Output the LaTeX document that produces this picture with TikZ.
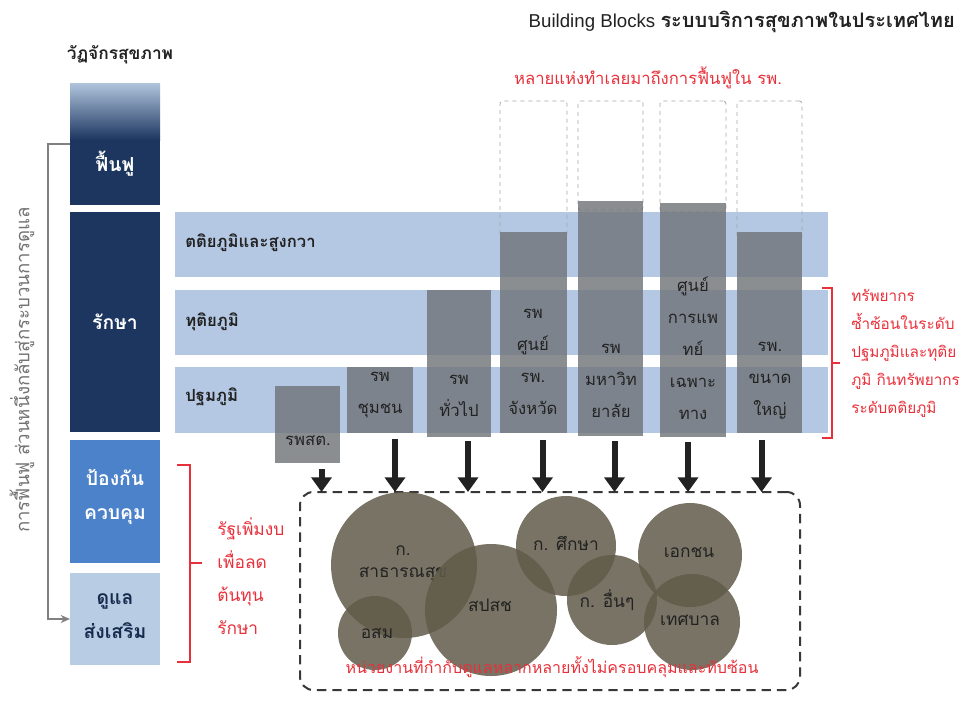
\documentclass[tikz,border=0pt]{standalone}
\usepackage{fontspec}
\setmainfont{Liberation Sans}
\newfontfamily\thai[Script=Thai]{Loma}
\usetikzlibrary{arrows.meta,fit,calc}
\definecolor{navy}{HTML}{1C3660}
\definecolor{navytop}{HTML}{B0C4DC}
\definecolor{midblue}{HTML}{4C82C9}
\definecolor{lightblue}{HTML}{B8CCE4}
\definecolor{band}{HTML}{B4C8E3}
\definecolor{boxgray}{HTML}{727579}
\definecolor{redtxt}{HTML}{E8303A}
\definecolor{olive}{HTML}{605A49}
\definecolor{txtdark}{HTML}{222222}
\begin{document}
\begin{tikzpicture}[x=0.75pt,y=-0.75pt,
  box/.style={inner sep=0pt, outer sep=0pt, draw=none},
  bandbox/.style={box, fill=band},
  graybox/.style={box, fill=boxgray, fill opacity=0.82},
  dashbox/.style={box, draw=gray!70, dashed, line width=0.6pt, rounded corners=2pt},
  lbl/.style={font=\thai\bfseries\fontsize{12.5}{15}\selectfont, text=txtdark, anchor=west, inner sep=0pt},
  gtxt/.style={font=\thai\fontsize{12.5}{24}\selectfont, text=txtdark, align=center, inner sep=0pt},
  redlbl/.style={font=\thai\fontsize{11.5}{21}\selectfont, text=redtxt, inner sep=0pt},
  bigarrow/.style={draw=txtdark, line width=4.5pt, -{Triangle[width=15pt,length=11pt]}},
  circ/.style={circle, fill=olive, fill opacity=0.85, text opacity=1, inner sep=0pt, draw=none},
  ctxt/.style={font=\thai\fontsize{13}{17}\selectfont, text=txtdark, align=center, inner sep=0pt},
  bracket/.style={draw=redtxt, line width=1.6pt},
  blocktxt/.style={font=\thai\bfseries\fontsize{14.5}{26}\selectfont, text=white, align=center, inner sep=0pt}
]
\useasboundingbox (0,0) rectangle (962,707);

% title
\node[anchor=east, inner sep=0pt, text=txtdark] (title) at (955,22)
  {\fontsize{14}{16}\selectfont Building Blocks {\thai\bfseries\fontsize{15}{16}\selectfont ระบบบริการสุขภาพในประเทศไทย}};
\node[font=\thai\bfseries\fontsize{13}{15}\selectfont, text=txtdark, inner sep=0pt] (cycle) at (120,55) {วัฏจักรสุขภาพ};

% left blocks
\node[box, fill=navy, fit={(70,83) (160,205)}] (bfuen) {};
\shade[top color=navytop, bottom color=navy] (70,83) rectangle (160,140);
\node[box, fill=navy, fit={(70,212) (160,432)}] (braksa) {};
\node[box, fill=midblue, fit={(70,440) (160,563)}] (bpong) {};
\node[box, fill=lightblue, fit={(70,573) (160,665)}] (bdulae) {};
\node[blocktxt] (tfuen) at (115,164) {ฟื้นฟู};
\node[blocktxt] (traksa) at (115,322) {รักษา};
\node[blocktxt] (tpong) at (115,497) {ป้องกัน\\ควบคุม};
\node[blocktxt, text=navy!80!black] (tdulae) at (115,616) {ดูแล\\ส่งเสริม};

% gray return connector
\draw[draw=gray, line width=1.3pt, -{Stealth[length=7pt,width=6pt]}] (bfuen.west) -- ++(-22,0) |- (bdulae.west);
\node[rotate=90, font=\thai\fontsize{14}{16}\selectfont, text=gray!90!black, inner sep=0pt] (vtext) at (22,370)
  {การฟื้นฟู ส่วนหนึ่งกลับสู่กระบวนการดูแล};

% bands
\node[bandbox, fit={(175,212) (828,277)}] (band3) {};
\node[bandbox, fit={(175,290) (828,355)}] (band2) {};
\node[bandbox, fit={(175,367) (828,433)}] (band1) {};
\node[lbl] (l3) at (185,243) {ตติยภูมิและสูงกวา};
\node[lbl] (l2) at (185,322) {ทุติยภูมิ};
\node[lbl] (l1) at (185,397) {ปฐมภูมิ};

% dashed boxes above
\node[dashbox, fit={(500,101) (567,240)}] (d4) {};
\node[dashbox, fit={(578,101) (643,210)}] (d5) {};
\node[dashbox, fit={(660,101) (726,212)}] (d6) {};
\node[dashbox, fit={(737,101) (802,240)}] (d7) {};

% gray boxes
\node[graybox, fit={(275,386) (340,463)}] (g1) {};
\node[graybox, fit={(347,367) (413,433)}] (g2) {};
\node[graybox, fit={(427,290) (491,437)}] (g3) {};
\node[graybox, fit={(500,232) (567,433)}] (g4) {};
\node[graybox, fit={(578,201) (643,436)}] (g5) {};
\node[graybox, fit={(660,203) (726,437)}] (g6) {};
\node[graybox, fit={(737,232) (802,433)}] (g7) {};
\node[gtxt] (t1) at (308,441) {รพสต.};
\node[gtxt] (t2) at (380,395) {รพ\\ชุมชน};
\node[gtxt] (t3) at (459,395.5) {รพ\\ทั่วไป};
\node[gtxt] (t4) at (533,361.5) {รพ\\ศูนย์\\รพ.\\จังหวัด};
\node[gtxt] (t5) at (611,381) {รพ\\มหาวิท\\ยาลัย};
\node[gtxt] (t6) at (693,348.5) {ศูนย์\\การแพ\\ทย์\\เฉพาะ\\ทาง};
\node[gtxt] (t7) at (770,381) {รพ.\\ขนาด\\ใหญ่};

% red top label
\node[redlbl, font=\thai\fontsize{12.5}{15}\selectfont] (toplbl) at (648,78) {หลายแห่งทำเลยมาถึงการฟื้นฟูใน รพ.};

% right red bracket
\draw[bracket] (822,288) -- (832,288) -- (832,438) -- (822,438);
\draw[bracket] (832,363) -- (840,363) coordinate (rtip);
\node[redlbl, align=left, anchor=west] (rtext) at (851,353)
  {ทรัพยากร\\ซ้ำซ้อนในระดับ\\ปฐมภูมิและทุติย\\ภูมิ กินทรัพยากร\\ระดับตติยภูมิ};

% left red bracket
\draw[bracket] (177,465) -- (190,465) -- (190,662) -- (177,662);
\draw[bracket] (190,563) -- (202,563) coordinate (ltip);
\node[redlbl, align=left, anchor=west, font=\thai\fontsize{13}{24.75}\selectfont] (ltext) at (217,576)
  {รัฐเพิ่มงบ\\เพื่อลด\\ต้นทุน\\รักษา};

% dashed container
\node[box, draw=txtdark!90, dashed, line width=1.5pt, dash pattern=on 7pt off 4.5pt, rounded corners=10pt, fit={(300,492) (800,690)}] (dash) {};

% arrows
\coordinate (a1) at ($(g1.south)+(14,6)$);
\coordinate (a2) at ($(g2.south)+(15,6)$);
\coordinate (a3) at ($(g3.south)+(9,4)$);
\coordinate (a4) at ($(g4.south)+(9,7)$);
\coordinate (a5) at ($(g5.south)+(4,5)$);
\coordinate (a6) at ($(g6.south)+(-5,5)$);
\coordinate (a7) at ($(g7.south)+(-8,7)$);
\foreach \a in {a1,a2,a3,a4,a5,a6,a7}
  \draw[bigarrow] (\a) -- (\a |- dash.north);

% circles
\node[circ, minimum size=109.5pt] (c1) at (404,565) {};
\node[ctxt] (ct1) at (403,564) {ก.\\สาธารณสุข};
\node[circ, minimum size=55.5pt] (c2) at (375,633) {};
\node[ctxt] (ct2) at (377,633) {อสม};
\node[circ, minimum size=99pt] (c3) at (491,610) {};
\node[ctxt] (ct3) at (490,605) {สปสช};
\node[circ, minimum size=75pt] (c4) at (566,546) {};
\node[ctxt] (ct4) at (566,543) {ก. ศึกษา};
\node[circ, minimum size=67.5pt] (c5) at (612,600) {};
\node[ctxt] (ct5) at (607,600) {ก. อื่นๆ};
\node[circ, minimum size=78pt] (c6) at (690,555) {};
\node[ctxt] (ct6) at (689,553) {เอกชน};
\node[circ, minimum size=72pt] (c7) at (692,622) {};
\node[ctxt] (ct7) at (690,620) {เทศบาล};

\node[redlbl, font=\thai\fontsize{12}{14}\selectfont] (bottomlbl) at (552,667) {หน่วยงานที่กำกับดูแลหลากหลายทั้งไม่ครอบคลุมและทับซ้อน};
\end{tikzpicture}
\end{document}
